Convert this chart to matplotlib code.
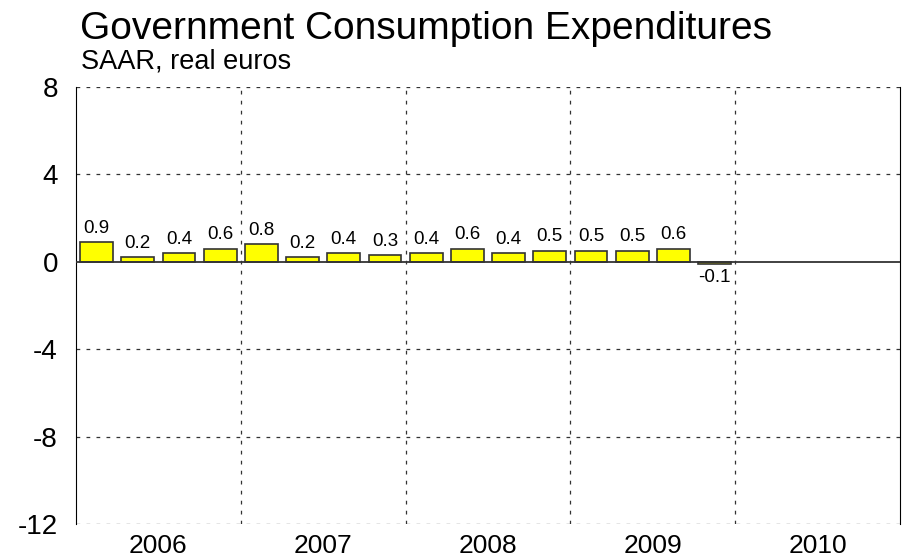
import numpy as np
import matplotlib.pyplot as plt

plt.rcParams['font.family'] = ['Liberation Sans', 'DejaVu Sans']

years = ['2006', '2007', '2008', '2009', '2010']
values = [0.9, 0.2, 0.4, 0.6, 0.8, 0.2, 0.4, 0.3,
          0.4, 0.6, 0.4, 0.5, 0.5, 0.5, 0.6, -0.1]
labels = ['0.9', '0.2', '0.4', '0.6', '0.8', '0.2', '0.4', '0.3',
          '0.4', '0.6', '0.4', '0.5', '0.5', '0.5', '0.6', '-0.1']
yticks = [8, 4, 0, -4, -8, -12]

nq = 4 * len(years)

fig = plt.figure(figsize=(9.07, 5.6), dpi=100)
ax = fig.add_axes([76/907, 1 - 524/560, 824/907, 437/560])

x = np.arange(len(values))
ax.bar(x, values, width=0.8, color='#ffff00', edgecolor='#333333', linewidth=1.2, zorder=3)

for xi, v, lab in zip(x, values, labels):
    if v >= 0:
        ax.text(xi, v + 0.25, lab, ha='center', va='bottom', fontsize=13.5)
    else:
        ax.text(xi, v - 0.25, lab, ha='center', va='top', fontsize=13.5)

ax.set_xlim(-0.5, nq - 0.5)
ax.set_ylim(-12, 8)

# grid
for b in range(1, len(years)):
    ax.axvline(4 * b - 0.5, color='#333333', ls=(0, (3, 5)), lw=0.9, zorder=1)
for yv in [8, 4, -4, -8, -12]:
    ax.axhline(yv, color='#333333', ls=(0, (3, 5)), lw=0.9, zorder=1)
ax.axhline(0, color='#333333', lw=1.3, zorder=4)

ax.spines['top'].set_visible(False)
ax.spines['bottom'].set_visible(False)
ax.spines['left'].set_color('black')
ax.spines['right'].set_color('black')

ax.set_yticks(yticks)
ax.set_yticklabels([str(t) for t in yticks], fontsize=20)
ax.set_xticks([4 * i + 1.5 for i in range(len(years))])
ax.set_xticklabels(years, fontsize=19)
ax.tick_params(axis='y', length=0, pad=13)
ax.tick_params(axis='x', length=0, pad=7)

fig.text(80/907, 1 - 39/560, 'Government Consumption Expenditures', fontsize=28, ha='left', va='baseline')
fig.text(81/907, 1 - 68/560, 'SAAR, real euros', fontsize=19.5, ha='left', va='baseline')

fig.savefig('out.png', dpi=100)
